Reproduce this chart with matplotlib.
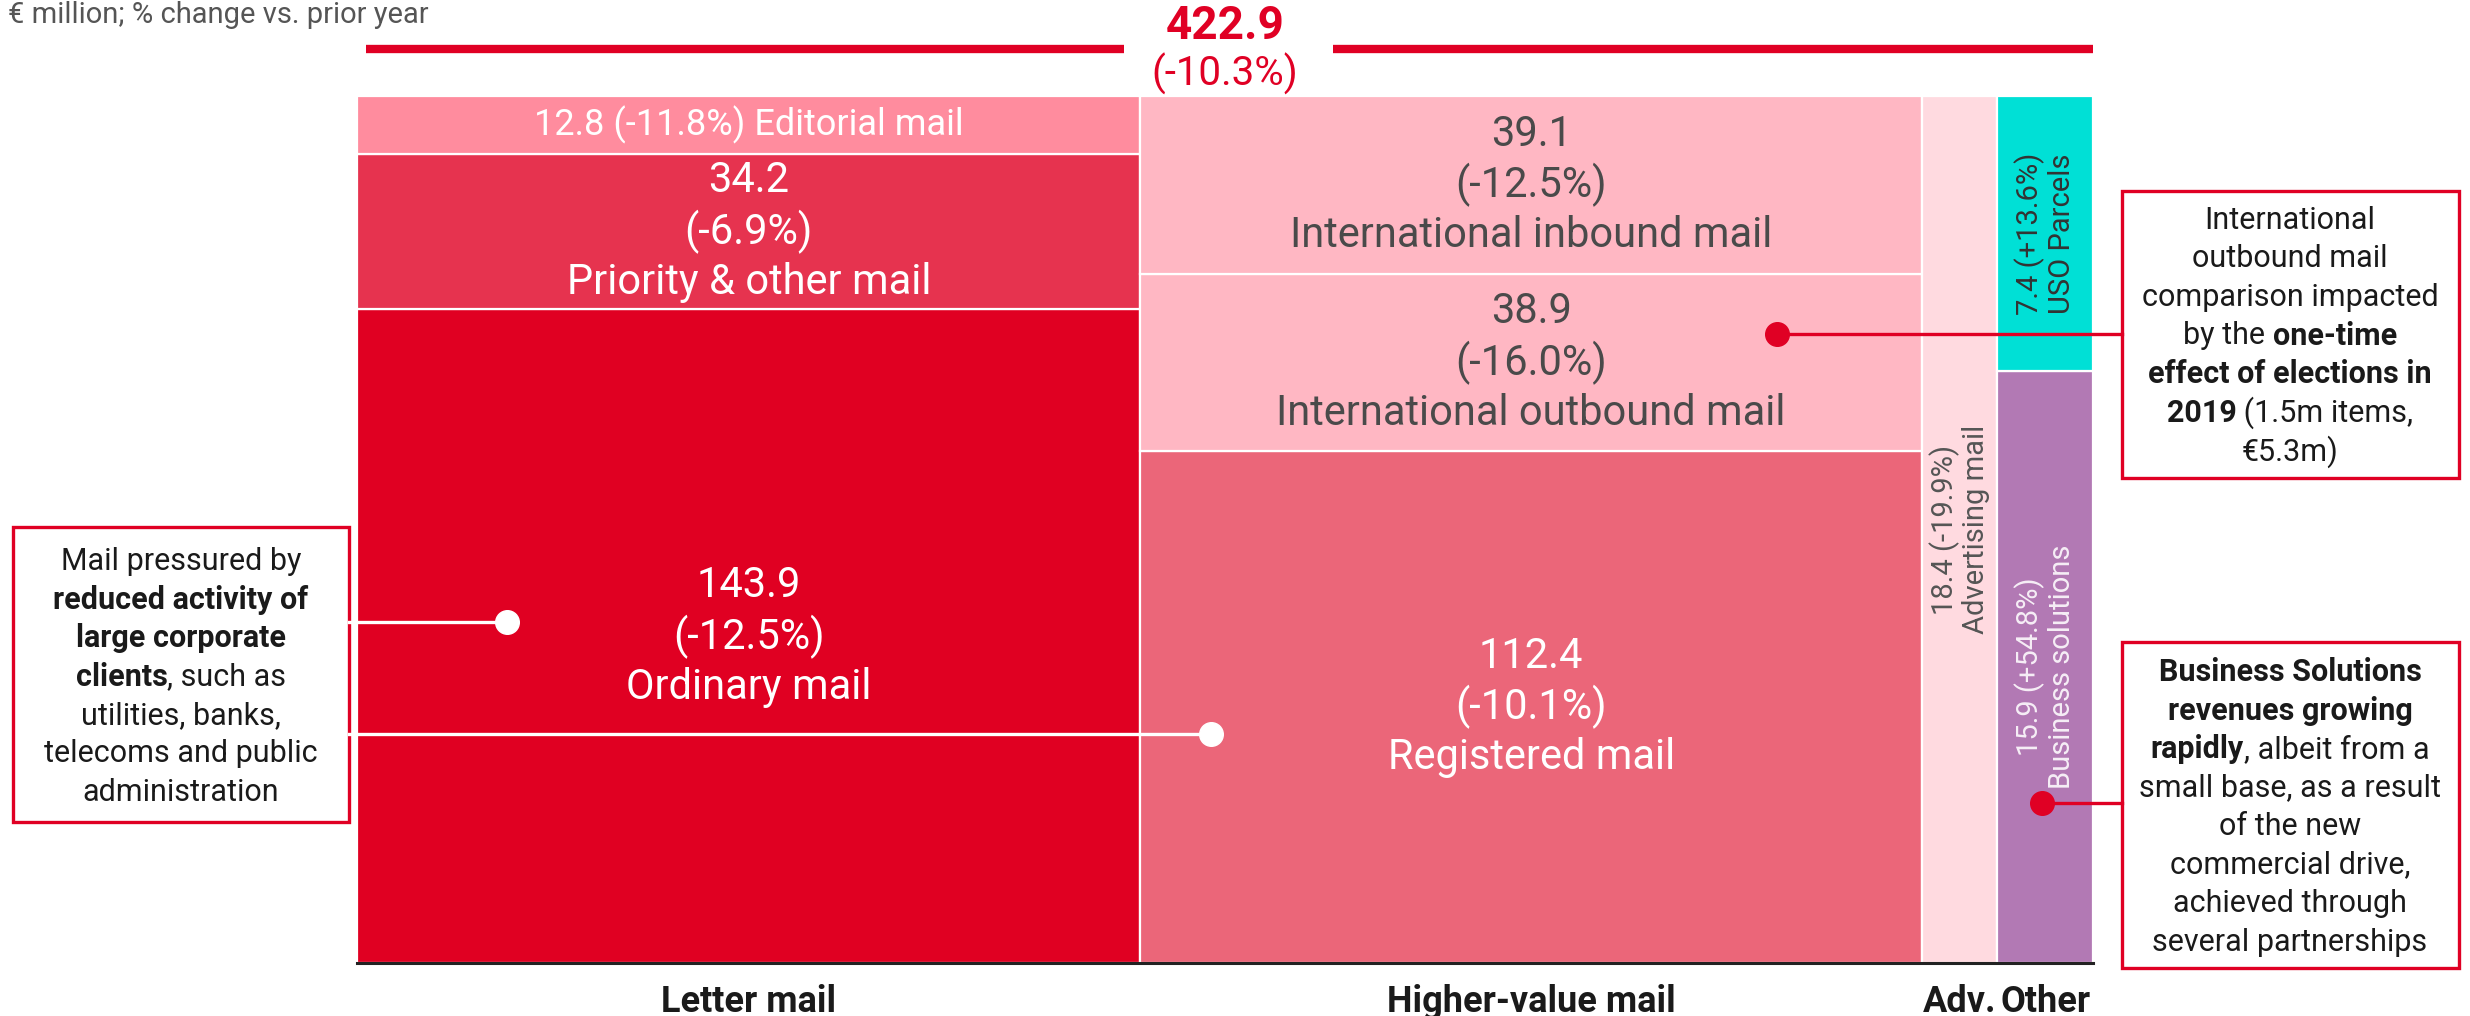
import matplotlib
matplotlib.use("Agg")
import matplotlib.pyplot as plt
import numpy as np
from matplotlib.lines import Line2D
from matplotlib.patches import Rectangle

W, H = 2470, 1016
FONT = ["Roboto", "DejaVu Sans"]
RED = "#E00024"
INK = "#1a1a1a"

# data: columns, segments listed bottom -> top
columns = ["Letter mail", "Higher-value mail", "Adv.", "Other"]
seg_names = [
    ["Ordinary mail", "Priority & other mail", "Editorial mail"],
    ["Registered mail", "International outbound mail", "International inbound mail"],
    ["Advertising mail"],
    ["Business solutions", "USO Parcels"],
]
seg_values = [[143.9, 34.2, 12.8], [112.4, 38.9, 39.1], [18.4], [15.9, 7.4]]
seg_changes = [["-12.5%", "-6.9%", "-11.8%"],
               ["-10.1%", "-16.0%", "-12.5%"],
               ["-19.9%"],
               ["+54.8%", "+13.6%"]]
total_value = 422.9
total_change = "-10.3%"
subtitle = "€ million; % change vs. prior year"

# styling per segment: colour, text colour, label kind
style = {
    "Ordinary mail": ("#E00022", "white", "big"),
    "Priority & other mail": ("#E6334F", "white", "big"),
    "Editorial mail": ("#FF8C9E", "white", "inline"),
    "Registered mail": ("#EB6679", "white", "big"),
    "International outbound mail": ("#FFB7C3", "#4a4a4a", "big"),
    "International inbound mail": ("#FFB7C3", "#4a4a4a", "big"),
    "Advertising mail": ("#FFDAE0", "#555555", "vert"),
    "Business solutions": ("#B279B4", "#f6eef6", "vert"),
    "USO Parcels": ("#00E0D6", "#333333", "vert"),
}


def fx(x):
    return x / W


def fy(y):
    return 1 - y / H


fig = plt.figure(figsize=(W / 100, H / 100), dpi=100)
ax = fig.add_axes([fx(357), fy(963), (2093 - 357) / W, (963 - 96) / H])

totals = [sum(v) for v in seg_values]
lefts = np.concatenate([[0], np.cumsum(totals)[:-1]])

for i, col in enumerate(columns):
    bottom = 0.0
    for name, v, ch in zip(seg_names[i], seg_values[i], seg_changes[i]):
        frac = v / totals[i]
        color, tcolor, kind = style[name]
        ax.bar(lefts[i], frac, width=totals[i], bottom=bottom, align="edge",
               color=color, edgecolor="white", linewidth=1.6, zorder=1)
        cx, cy = lefts[i] + totals[i] / 2, bottom + frac / 2
        if kind == "big":
            ax.text(cx, cy, f"{v:.1f}\n({ch})\n{name}", ha="center", va="center",
                    color=tcolor, fontsize=30, family=FONT, linespacing=1.25)
        elif kind == "inline":
            ax.text(cx, cy, f"{v:.1f} ({ch}) {name}", ha="center", va="center",
                    color=tcolor, fontsize=26, family=FONT)
        else:
            ax.text(cx, cy, f"{v:.1f} ({ch})\n{name}", ha="center", va="center",
                    color=tcolor, fontsize=21, family=FONT, rotation=90,
                    linespacing=1.12)
        bottom += frac

ax.set_xlim(0, sum(totals))
ax.set_ylim(0, 1)
ax.set_yticks([])
ax.set_xticks(lefts + np.array(totals) / 2)
ax.set_xticklabels(columns, fontsize=26, fontweight="bold", family=FONT, color=INK)
ax.tick_params(axis="x", length=0, pad=15)
for s in ["top", "left", "right"]:
    ax.spines[s].set_visible(False)
ax.spines["bottom"].set_linewidth(2.2)
ax.spines["bottom"].set_color("#222222")
ax.spines["bottom"].set_zorder(3)

# total header
ax.plot([0.005, 0.442], [1.054, 1.054], transform=ax.transAxes, color=RED,
        lw=6, solid_capstyle="butt", clip_on=False)
ax.plot([0.562, 1.0], [1.054, 1.054], transform=ax.transAxes, color=RED,
        lw=6, solid_capstyle="butt", clip_on=False)
ax.text(0.5, 1.081, f"{total_value:.1f}", transform=ax.transAxes, ha="center",
        va="center", color=RED, fontsize=33, fontweight="bold", family=FONT)
ax.text(0.5, 1.026, f"({total_change})", transform=ax.transAxes, ha="center",
        va="center", color=RED, fontsize=29, family=FONT)

fig.text(fx(8), fy(23), subtitle, ha="left", va="baseline", fontsize=21,
         color="#555555", family=FONT)

renderer = fig.canvas.get_renderer()


def text_width(s, size, bold):
    kw = dict(fontsize=size, family=FONT, fontweight="bold" if bold else "normal")
    a = fig.text(0, 0, "|" + s + "|", **kw)
    b = fig.text(0, 0, "||", **kw)
    w = a.get_window_extent(renderer).width - b.get_window_extent(renderer).width
    a.remove()
    b.remove()
    return w


def rich_line(xc, yc, parts, size=22):
    widths = [text_width(s, size, b) for s, b in parts]
    x = xc - sum(widths) / 2
    for (s, b), w in zip(parts, widths):
        fig.text(fx(x), fy(yc), s, ha="left", va="center", fontsize=size,
                 family=FONT, fontweight="bold" if b else "normal", color=INK)
        x += w


def box(x0, y0, x1, y1):
    fig.add_artist(Rectangle((fx(x0), fy(y1)), (x1 - x0) / W, (y1 - y0) / H,
                             transform=fig.transFigure, fill=False,
                             edgecolor=RED, lw=2.4))


def connector(xbox, dot, color):
    px, py = ax.transData.transform(dot)
    fxy = fig.transFigure.inverted().transform((px, py))
    fig.add_artist(Line2D([fx(xbox), fxy[0]], [fxy[1], fxy[1]],
                          transform=fig.transFigure, color=color, lw=2.4))
    ax.plot(*dot, "o", ms=17, color=color, zorder=4, clip_on=False)


# left note
box(13, 527, 349, 822)
left_lines = [
    [("Mail pressured by", False)],
    [("reduced activity of", True)],
    [("large corporate", True)],
    [("clients", True), (", such as", False)],
    [("utilities, banks,", False)],
    [("telecoms and public", False)],
    [("administration", False)],
]
for k, parts in enumerate(left_lines):
    rich_line(181, 561 + k * 38.6, parts)
connector(349, (36.5, 0.393), "white")
connector(349, (208.0, 0.264), "white")

# right top note
box(2122, 191, 2459, 478)
rt_lines = [
    [("International", False)],
    [("outbound mail", False)],
    [("comparison impacted", False)],
    [("by the ", False), ("one-time", True)],
    [("effect of elections in", True)],
    [("2019", True), (" (1.5m items,", False)],
    [("€5.3m)", False)],
]
for k, parts in enumerate(rt_lines):
    rich_line(2290, 220 + k * 38.6, parts)
connector(2122, (346.0, 0.725), RED)

# right bottom note
box(2122, 642, 2459, 968)
rb_lines = [
    [("Business Solutions", True)],
    [("revenues growing", True)],
    [("rapidly", True), (", albeit from a", False)],
    [("small base, as a result", False)],
    [("of the new", False)],
    [("commercial drive,", False)],
    [("achieved through", False)],
    [("several partnerships", False)],
]
for k, parts in enumerate(rb_lines):
    rich_line(2290, 672 + k * 38.6, parts)
connector(2122, (410.5, 0.185), RED)

fig.savefig("out.png", dpi=100)
